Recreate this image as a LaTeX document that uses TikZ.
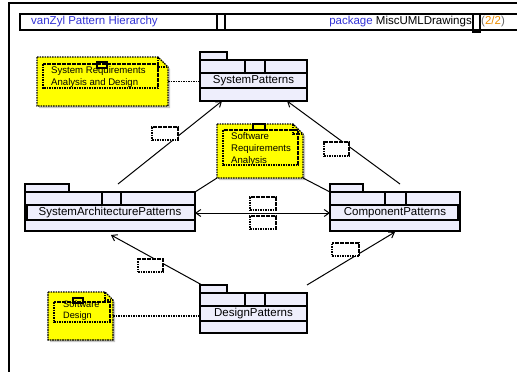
\documentclass[tikz,border=0pt]{standalone}
\usepackage{fontspec}
\setmainfont{Liberation Sans}
\usetikzlibrary{arrows.meta}
\definecolor{pkgfill}{RGB}{238,238,252}
\definecolor{noteyellow}{RGB}{255,255,0}
\definecolor{hdrblue}{RGB}{51,51,214}
\definecolor{hdrorange}{RGB}{235,140,0}

% UML package: name, x, y (body top), width, height, tab width, box offset, box width, label
\newcommand\umlpkg[9]{%
  \draw[pkgline, fill=pkgfill] (#2,#3) rectangle ++(#6,-8);
  \node[pkgbody, anchor=north west, minimum width=#4pt, minimum height=#5pt] (#1) at (#2,#3) {};
  \draw[pkgline, fill=pkgfill] (#2+#7,#3) rectangle ++(#8,13);
  \node[pkgname, anchor=north west, minimum width=#4pt, minimum height=15pt] (#1-name) at (#2,#3+13) {#9};
}

% UML note with folded corner: name, x, y, width, height, fold size
\newcommand\umlnote[6]{%
  \fill[black!22] (#2+2,#3+2) -- (#2+#4+2-#6,#3+2) -- (#2+#4+2,#3+2+#6) -- (#2+#4+2,#3+#5+2) -- (#2+2,#3+#5+2) -- cycle;
  \node[notebox, anchor=north west, minimum width=#4pt, minimum height=#5pt] (#1) at (#2,#3) {};
  \draw[dotline, fill=noteyellow] (#1.north west) -- ([xshift=-#6pt]#1.north east) -- ([yshift=-#6pt]#1.north east) -- (#1.south east) -- (#1.south west) -- cycle;
  \draw[dotline] ([xshift=-#6pt]#1.north east) |- ([yshift=-#6pt]#1.north east);
}

\begin{document}
\begin{tikzpicture}[x=1pt, y=-1pt,
  pkgline/.style={draw=black, line width=1.4pt},
  pkgbody/.style={pkgline, fill=pkgfill, rectangle, inner sep=0pt, outer sep=0pt},
  pkgname/.style={pkgbody, font=\fontsize{11.5}{13}\selectfont},
  dotline/.style={line width=1.2pt, dash pattern=on 1.6pt off 0.9pt},
  notebox/.style={rectangle, inner sep=0pt, outer sep=0pt},
  notetext/.style={inner sep=0pt, anchor=north west, align=left, font=\fontsize{9.6}{12}\selectfont},
  lblbox/.style={draw, dotline, fill=white, rectangle, inner sep=0pt, minimum height=13pt},
  conn/.style={line width=1pt},
  tipbarb/.tip={Straight Barb[length=5pt,width=7pt]},
  arr/.style={conn, -tipbarb},
  dualarr/.style={conn, tipbarb-tipbarb},
  noteconn/.style={line width=1.1pt, dash pattern=on 1.6pt off 0.9pt},
  hdrtext/.style={inner sep=0pt, font=\fontsize{11.5}{13}\selectfont},
]
\useasboundingbox (0,0) rectangle (517,372);

% frame and header bar
\draw[line width=1.5pt] (9,380) -- (9,3) -- (525,3);
\draw[line width=1.5pt] (20,14) rectangle (530,30);
\draw[line width=1.5pt] (217,14) -- (217,30);
\draw[line width=1.5pt] (225,14) -- (225,30);
\draw[line width=1.8pt] (473,14) rectangle (480,32);
\node[hdrtext, anchor=west, text=hdrblue] (title) at (31,22) {vanZyl Pattern Hierarchy};
\node[hdrtext, anchor=east] (pkglabel) at (472,22) {{\color{hdrblue}package} MiscUMLDrawings};
\node[hdrtext, anchor=west, text=black!60] (pagenum) at (481,22) {({\color{hdrorange}2/2})};

% packages
\umlpkg{sp}{200}{60}{107}{41}{27}{45}{20}{SystemPatterns}
\umlpkg{sap}{25}{192}{170}{39}{44}{77}{19}{SystemArchitecturePatterns}
\umlpkg{cp}{330}{192}{130}{39}{33}{55}{21}{ComponentPatterns}
\umlpkg{dp}{200}{293}{107}{40}{27}{45}{20}{DesignPatterns}
\fill (25,205) rectangle (28,219);
\fill (457,205) rectangle (460,219);

% dependencies between packages
\draw[arr] ([xshift=93pt,yshift=8pt]sap.north west) -- ([xshift=22pt]sp.south west);
\draw[arr] ([xshift=70pt,yshift=8pt]cp.north west) -- ([xshift=87pt]sp.south west);
\draw[dualarr] ([yshift=-1.5pt]sap.east) -- ([yshift=-1.5pt]cp.west);
\draw[arr] ([xshift=2pt,yshift=8pt]dp.north west) -- ([xshift=86pt,yshift=-4pt]sap.south west);
\draw[arr] ([yshift=8pt]dp.north east) -- ([xshift=65pt,yshift=-1pt]cp.south west);

% notes
\umlnote{n1}{37}{57}{131}{49}{10}
\draw[dotline] (43,64) rectangle (158,88);
\draw[line width=1.2pt] (97,62) rectangle (107,68);
\node[notetext] (n1text) at (51,66.5) {System Requirements\\Analysis and Design};

\umlnote{n2}{217}{124}{86}{54}{10}
\draw[dotline] (223,130) rectangle (298,165);
\draw[line width=1.2pt] (253,124) rectangle (265,130);
\node[notetext] (n2text) at (231,132.5) {Software\\Requirements\\Analysis};

\umlnote{n3}{48}{292}{65}{48}{8}
\draw[dotline] (54,302) rectangle (110,322);
\draw[line width=1.2pt] (73,298) rectangle (83,303);
\node[notetext, font=\fontsize{9.2}{11}\selectfont] (n3text) at (63,300.5) {Software\\Design};

% note attachments
\draw[noteconn] (n1.east) -- (n1.east -| sp.west);
\draw[noteconn] (n3.east) -- (n3.east -| dp.west);
\draw[conn] (n2.south west) -- (sap.north east);
\draw[conn] (n2.south east) -- (cp.north west);

% empty connector labels
\node[lblbox, minimum width=26pt] (l1) at (165,133.5) {};
\node[lblbox, minimum width=25pt, minimum height=14pt] (l2) at (336.5,149) {};
\node[lblbox, minimum width=26pt] (l3) at (263,203.5) {};
\node[lblbox, minimum width=26pt] (l4) at (263,222.5) {};
\node[lblbox, minimum width=25pt] (l5) at (150.5,265.5) {};
\node[lblbox, minimum width=27pt] (l6) at (345.5,249.5) {};
\end{tikzpicture}
\end{document}
